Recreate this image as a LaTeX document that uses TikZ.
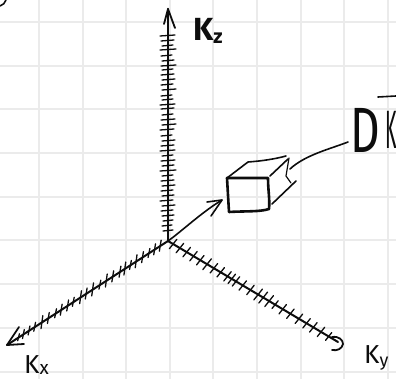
\documentclass[tikz,border=0pt]{standalone}
\usetikzlibrary{calc}
\usepackage{fontspec}
\setmainfont{Fira Sans}
\definecolor{gridc}{gray}{0.92}
\definecolor{inkc}{gray}{0.05}
\tikzset{
  gridline/.style={draw=gridc,line width=1.2pt},
  ink/.style={draw=inkc,line width=1.6pt,line cap=round,line join=round},
  inkthick/.style={draw=inkc,line width=2.6pt,line cap=round,line join=round},
  tick/.style={draw=inkc,line width=1.3pt,line cap=round},
  hand/.style={text=inkc,inner sep=0pt,font=\fontsize{32pt}{32pt}\selectfont\bfseries},
  handsmall/.style={text=inkc,inner sep=0pt,font=\fontsize{26pt}{26pt}\selectfont}
}
\begin{document}
\begin{tikzpicture}[x=1pt,y=-1pt]
\useasboundingbox (0,0) rectangle (396,379);
\fill[white] (0,0) rectangle (396,379);
% grid
\foreach \gx in {39,83,126,170,213,257,301,344,388}
  \draw[gridline] (\gx,0) -- (\gx,379);
\foreach \gy in {22,66,109,153,197,240,284,328,372}
  \draw[gridline] (0,\gy) -- (396,\gy);
% corner mark
\draw[ink] (0,6) .. controls (3,5) and (5,3) .. (6,0);
% axes
\coordinate (o) at (168,241);
\coordinate (zend) at (168,9);
\coordinate (xend) at (7,345);
\coordinate (yend) at (338,342);
\draw[inkthick] (o) -- (zend);
\draw[ink,line width=2pt] (o) -- (xend);
\draw[ink,line width=2pt] (o) -- (yend);
% arrow heads
\draw[ink,line width=1.8pt] (164,24) -- (zend) -- (175,28);
\draw[ink,line width=1.8pt] (19,327) -- (xend) -- (24,344);
\draw[ink,line width=1.8pt] (332,337) .. controls (339,336) and (343,340) .. (343,344) .. controls (342,349) and (337,351) .. (332,350);
% ticks z
\foreach \ty/\a/\b in {36/160/175,41/161/174,46/162/173,50/160/176,56/161/172,61/162/174,66/161/176,70/162/173,75/161/174,80/162/175,85/161/173,90/162/176,96/161/172,100/162/173,105/160/175,109/161/174,115/162/173,120/161/175,125/162/176,130/160/174,136/161/172,141/162/175,146/161/174,151/160/175,156/162/173,161/161/175,166/162/174,171/160/176,176/162/173,181/161/174,186/162/175,191/161/173,196/162/174,201/160/173,206/162/175,211/161/173,216/162/174,221/163/173,226/162/172,231/163/173}
  \draw[tick] (\a,\ty) -- (\b,\ty-1);
% ticks x
\foreach \t/\d in {0.05/6,0.085/6,0.12/5,0.16/6,0.20/7,0.235/5,0.27/7,0.30/6,0.345/6,0.385/7,0.425/5,0.47/7,0.51/6,0.545/7,0.59/5,0.625/6,0.665/6,0.70/5,0.745/6,0.785/7,0.83/5,0.865/5,0.90/5,0.93/4}
  \draw[tick] ($(o)!\t!(xend)+(1.2,-\d)$) -- ($(o)!\t!(xend)+(-0.6,\d-1)$);
% ticks y
\foreach \t/\d in {0.03/6,0.07/6,0.11/6,0.15/6,0.19/6,0.23/7,0.27/6,0.31/6,0.35/6,0.375/6,0.40/6,0.44/6,0.485/6,0.53/7,0.56/7,0.595/7,0.63/5,0.675/6,0.72/6,0.77/6,0.815/6,0.855/6,0.90/6,0.945/5}
  \draw[tick] ($(o)!\t!(yend)+(0.62*\d,-0.78*\d)$) -- ($(o)!\t!(yend)+(-0.62*\d,0.78*\d)$);
% cube
\coordinate (c1) at (227,178);
\coordinate (c2) at (229,212);
\coordinate (c3) at (269,209);
\coordinate (c4) at (268,178);
\draw[inkthick] (c1) -- (c2) .. controls (245,211) and (260,212) .. (c3) .. controls (270,200) and (268,190) .. (c4) -- cycle;
\draw[ink] (c1) -- (248,162) .. controls (262,161) and (275,159) .. (286,156);
\draw[ink] (270,176) -- (288,159);
\draw[ink] (272,204) -- (296,181);
\draw[ink,line width=1.2pt] (289,158) -- (286,176) -- (291,183);
% leader
\coordinate (lead) at (348,142);
\draw[ink] (lead) .. controls (330,149) and (305,155) .. (290,169);
% inner arrow
\coordinate (tip) at (222,200);
\draw[ink] (o) .. controls (182,231) and (202,212) .. (tip);
\draw[ink] (207,202) -- (tip) -- (211,216);
% labels
\node[hand,anchor=west] (kz) at (193,31) {K\raisebox{-3pt}{\fontsize{20pt}{20pt}\selectfont z}};
\node[handsmall,anchor=west] (kx) at (24,365) {K\raisebox{-1pt}{\fontsize{19pt}{19pt}\selectfont x}};
\node[handsmall,anchor=west] (ky) at (364,358) {K\raisebox{-3pt}{\fontsize{18pt}{18pt}\selectfont y}};
\node[text=inkc,inner sep=0pt,font=\fontsize{64pt}{64pt}\selectfont,anchor=west,xscale=0.72] (dk) at (350,130) {D};
\node[text=inkc,inner sep=0pt,font=\fontsize{54pt}{54pt}\selectfont,anchor=west,xscale=0.36] (kb) at (385,130) {K};
\draw[ink] (378,97) -- (396,96);
\end{tikzpicture}
\end{document}
